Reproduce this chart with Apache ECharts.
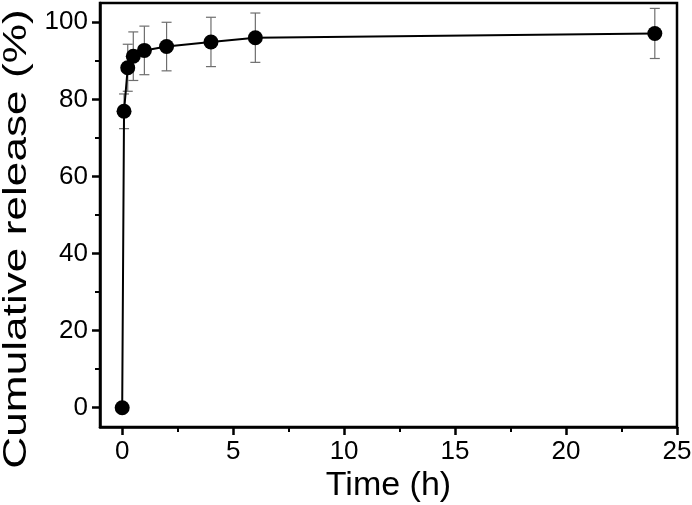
<!DOCTYPE html>
<html>
<head>
<meta charset="utf-8">
<script src="https://cdn.jsdelivr.net/npm/echarts@6/dist/echarts.min.js"></script>
<style>
  html, body { margin: 0; padding: 0; background: #fff; }
  #chart { width: 692px; height: 505px; }
</style>
</head>
<body>
<div id="chart"></div>
<script>
// release profile
const timeH = [0, 0.083, 0.25, 0.5, 1, 2, 4, 6, 24]
const release = [0, 76.9, 88.2, 91.2, 92.7, 93.7, 94.9, 96.0, 97.1]
const errorSd = [0, 4.5, 6.1, 6.3, 6.3, 6.3, 6.4, 6.4, 6.5]

// axis ranges and ticks
const xRange = [-1, 25]
const yRange = [-5, 105]
const xTickRange = [0, 25]
const yTickRange = [0, 100]
const xStep = 5
const yStep = 20

const font = "'Liberation Sans', Arial, sans-serif"

// plot box in px
const L = 100, R = 15, T = 3, B = 78
const W = 692 - L - R, H = 505 - T - B
// tick grids start where the ticks start, so interval counts from 0
const xPad = W * (xTickRange[0] - xRange[0]) / (xRange[1] - xRange[0])
const yPadB = H * (yTickRange[0] - yRange[0]) / (yRange[1] - yRange[0])
const yPadT = H * (yRange[1] - yTickRange[1]) / (yRange[1] - yRange[0])

const chart = echarts.init(document.getElementById('chart'))

const lineData = timeH.map((t, i) => [t, release[i]])
const errData = timeH.map((t, i) => [t, release[i] - errorSd[i], release[i] + errorSd[i]])

function renderErr(params, api) {
  const x = api.value(0)
  const lo = api.coord([x, api.value(1)])
  const hi = api.coord([x, api.value(2)])
  if (Math.abs(hi[1] - lo[1]) < 1) return null
  const cap = 5
  const style = { stroke: '#6e6e6e', lineWidth: 1.2 }
  return {
    type: 'group',
    children: [
      { type: 'line', shape: { x1: lo[0], y1: lo[1], x2: hi[0], y2: hi[1] }, style },
      { type: 'line', shape: { x1: lo[0] - cap, y1: lo[1], x2: lo[0] + cap, y2: lo[1] }, style },
      { type: 'line', shape: { x1: hi[0] - cap, y1: hi[1], x2: hi[0] + cap, y2: hi[1] }, style }
    ]
  }
}

const hidden = { show: false }
const labelStyle = { fontFamily: font, fontSize: 26, color: '#000' }

const option = {
  backgroundColor: '#fff',
  animation: false,
  grid: [
    { left: L, right: R, top: T, bottom: B, show: true, borderColor: '#000', borderWidth: 2.5, outerBoundsMode: 'none', containLabel: false },
    { left: L + xPad, right: R, top: T, bottom: B, show: false, outerBoundsMode: 'none', containLabel: false },
    { left: L, right: R, top: T + yPadT, bottom: B + yPadB, show: false, outerBoundsMode: 'none', containLabel: false }
  ],
  xAxis: [
    {
      type: 'value', gridIndex: 0, min: xRange[0], max: xRange[1],
      name: 'Time (h)', nameLocation: 'middle', nameGap: 42,
      nameTextStyle: { fontFamily: font, fontSize: 34, color: '#000' },
      axisLine: { onZero: false, lineStyle: { color: '#000', width: 2.5 } },
      axisTick: hidden, axisLabel: hidden, splitLine: hidden
    },
    {
      type: 'value', gridIndex: 1, min: xTickRange[0], max: xTickRange[1], interval: xStep,
      axisLine: { show: false, onZero: false },
      axisTick: { show: true, length: 8, lineStyle: { color: '#000', width: 2.5 } },
      minorTick: { show: true, splitNumber: 2, length: 5, lineStyle: { color: '#000', width: 2 } },
      axisLabel: Object.assign({ margin: 12 }, labelStyle),
      splitLine: hidden
    },
    { type: 'value', gridIndex: 2, show: false, min: xRange[0], max: xRange[1] }
  ],
  yAxis: [
    {
      type: 'value', gridIndex: 0, min: yRange[0], max: yRange[1],
      axisLine: { show: true, onZero: false, lineStyle: { color: '#000', width: 2.5 } },
      axisTick: hidden, axisLabel: hidden, splitLine: hidden
    },
    { type: 'value', gridIndex: 1, show: false, min: yRange[0], max: yRange[1] },
    {
      type: 'value', gridIndex: 2, min: yTickRange[0], max: yTickRange[1], interval: yStep,
      axisLine: { show: false, onZero: false },
      axisTick: { show: true, length: 8, lineStyle: { color: '#000', width: 2.5 } },
      minorTick: { show: true, splitNumber: 2, length: 5, lineStyle: { color: '#000', width: 2 } },
      axisLabel: Object.assign({ margin: 12 }, labelStyle),
      splitLine: hidden
    }
  ],
  graphic: [
    {
      // y title is stretched along its length in the original figure
      type: 'text', x: 17, y: 239, rotation: Math.PI / 2, scaleX: 1.3,
      style: { text: 'Cumulative release (%)', font: "34px 'Liberation Sans', Arial, sans-serif", fill: '#000', align: 'center', verticalAlign: 'middle' }
    }
  ],
  series: [
    { type: 'custom', xAxisIndex: 0, yAxisIndex: 0, z: 1, renderItem: renderErr, data: errData },
    {
      type: 'line', xAxisIndex: 0, yAxisIndex: 0, z: 2, data: lineData,
      symbol: 'circle', symbolSize: 15,
      lineStyle: { color: '#000', width: 2 }, itemStyle: { color: '#000' }
    }
  ]
}

chart.setOption(option)
</script>
</body>
</html>
